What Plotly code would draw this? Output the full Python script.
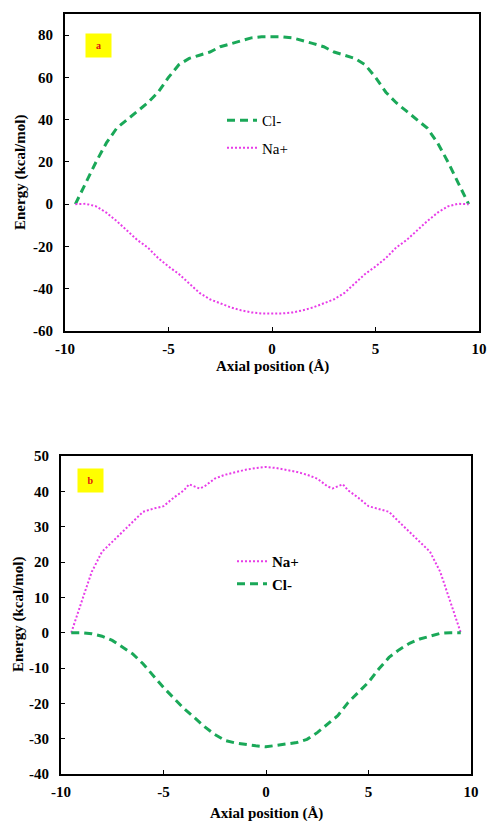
import plotly.graph_objects as go

# ---- Panel a data ----
xa = [-9.5, -9, -8.5, -8, -7.5, -7, -6.5, -6, -5.5, -5, -4.5, -4, -3.5, -3, -2.5, -2, -1.5, -1, -0.5, 0,
      0.5, 1, 1.5, 2, 2.5, 3, 3.5, 4, 4.5, 5, 5.5, 6, 6.5, 7, 7.5, 8, 8.5, 9, 9.5]
cl_a = [0, 10, 20, 29, 36, 40, 44, 48, 53, 60, 66, 69, 70.5, 72, 74.5, 76, 77.5, 78.7, 79.2, 79.2,
        79.2, 78.7, 77.5, 76, 74.5, 72, 70.5, 69, 66, 60, 53, 48, 44, 40, 36, 29, 20, 10, 0]
na_a = [0, 0.2, -1, -4, -8, -12.5, -17, -20.5, -25.5, -29.5, -33, -37.5, -42, -45, -47, -48.8, -50.2, -51.2, -51.7, -51.7,
        -51.7, -51.2, -50.2, -48.8, -47, -45, -42, -37.5, -33, -29.5, -25.5, -20.5, -17, -12.5, -8, -4, -1, 0.2, 0]

# ---- Panel b data ----
xb_na = [-9.5, -9.25, -9, -8.75, -8.5, -8, -7.5, -7, -6.5, -6, -5.5, -5, -4.5, -4, -3.75, -3.5, -3.25, -3, -2.5, -2,
         -1.5, -1, -0.5, 0, 0.5, 1, 1.5, 2, 2.5, 3, 3.25, 3.5, 3.75, 4, 4.5, 5, 5.5, 6, 6.5, 7, 7.5, 8,
         8.5, 8.75, 9, 9.25, 9.5]
na_b = [0, 4.5, 8.7, 13, 17.2, 22.9, 25.7, 28.5, 31.3, 34.2, 35.1, 35.8, 38.2, 40.3, 42, 41.4, 40.8, 41.4, 43.6, 44.7,
        45.5, 46.1, 46.6, 46.9, 46.6, 46.1, 45.5, 44.7, 43.6, 41.4, 40.8, 41.4, 42, 40.3, 38.2, 35.8, 35.1, 34.2, 31.3, 28.5, 25.7, 22.9,
        17.2, 13, 8.7, 4.5, 0]
xb_cl = [-9.5, -9, -8.5, -8, -7.5, -7, -6.5, -6, -5.5, -5, -4.5, -4, -3.5, -3, -2.5, -2, -1.5, -1, -0.5, 0,
         0.5, 1, 1.5, 2, 2.5, 3, 3.5, 4, 4.5, 5, 5.5, 6, 6.5, 7, 7.5, 8, 8.5, 9, 9.5]
cl_b = [0, 0, -0.3, -1, -2.2, -4, -6, -8.8, -12.3, -15.5, -18.5, -21.5, -24, -26.6, -28.8, -30.5, -31.2, -31.7, -32, -32.3,
        -32, -31.5, -31.1, -30.2, -28.3, -26, -23.5, -19.8, -16.8, -14, -10.3, -7, -4.8, -3, -1.8, -0.9, -0.2, 0, 0]

xticks = [-10, -5, 0, 5, 10]
xticklabels = ["-10", "-5", "0", "5", "10"]
yticks_a = [-60, -40, -20, 0, 20, 40, 60, 80]
yticklabels_a = ["-60", "-40", "-20", "0", "20", "40", "60", "80"]
yticks_b = [-40, -30, -20, -10, 0, 10, 20, 30, 40, 50]
yticklabels_b = ["-40", "-30", "-20", "-10", "0", "10", "20", "30", "40", "50"]
xtitle = "Axial position (Å)"
ytitle = "Energy (kcal/mol)"

GREEN = "#1aa858"
MAGENTA = "#e83ce8"
FONT = "Liberation Serif, Times New Roman, serif"
W, H = 487, 821

fig = go.Figure()
fig.add_trace(go.Scatter(x=xa, y=cl_a, name="Cl-", mode="lines", xaxis="x", yaxis="y", legendgroup="a1",
                         line=dict(color=GREEN, width=3, dash="8px,5px"), legend="legend"))
fig.add_trace(go.Scatter(x=xa, y=na_a, name="Na+", mode="lines", xaxis="x", yaxis="y", legendgroup="a2",
                         line=dict(color=MAGENTA, width=2, dash="2px,2px"), legend="legend"))
fig.add_trace(go.Scatter(x=xb_na, y=na_b, name="Na+", mode="lines", xaxis="x2", yaxis="y2", legendgroup="b1",
                         line=dict(color=MAGENTA, width=2, dash="2px,2px"), legend="legend2"))
fig.add_trace(go.Scatter(x=xb_cl, y=cl_b, name="Cl-", mode="lines", xaxis="x2", yaxis="y2", legendgroup="b2",
                         line=dict(color=GREEN, width=3, dash="8px,5px"), legend="legend2"))

axcommon = dict(showgrid=False, zeroline=False, showline=True, linecolor="black", linewidth=2,
                mirror=True, ticks="inside", ticklen=4, tickwidth=1, tickcolor="black", automargin=False,
                tickfont=dict(family=FONT, size=15, color="black", weight="bold"))


def px_x(p):
    return p / W


def px_y(p):
    return 1 - p / H


titlefont = dict(family=FONT, size=15, color="black")
labelfont = dict(family=FONT, size=10, color="#e01010")


def ann(text, x, y, font, angle=0, **kw):
    return dict(text=text, x=px_x(x), y=px_y(y), xref="paper", yref="paper", showarrow=False,
                xanchor="center", yanchor="middle", textangle=angle, font=font, **kw)


fig.update_layout(
    width=W, height=H, margin=dict(l=0, r=0, t=0, b=0, autoexpand=False),
    paper_bgcolor="white", plot_bgcolor="white",
    xaxis=dict(domain=[px_x(65), px_x(479)], range=[-10, 10], tickvals=xticks, ticktext=xticklabels,
               anchor="y", ticklabelstandoff=3, **axcommon),
    yaxis=dict(domain=[px_y(331), px_y(14)], range=[-60, 90], tickvals=yticks_a, ticktext=yticklabels_a,
               anchor="x", ticklabelstandoff=7, **axcommon),
    xaxis2=dict(domain=[px_x(61), px_x(471)], range=[-10, 10], tickvals=xticks, ticktext=xticklabels,
                anchor="y2", ticklabelstandoff=3, **axcommon),
    yaxis2=dict(domain=[px_y(774), px_y(456)], range=[-40, 50], tickvals=yticks_b, ticktext=yticklabels_b,
                anchor="x2", ticklabelstandoff=7, **axcommon),
    legend=dict(x=px_x(222), y=px_y(104), xanchor="left", yanchor="top", bgcolor="rgba(0,0,0,0)",
                font=dict(family=FONT, size=15, color="black"), tracegroupgap=5),
    legend2=dict(x=px_x(232), y=px_y(545), xanchor="left", yanchor="top", bgcolor="rgba(0,0,0,0)",
                 font=dict(family=FONT, size=15, color="black", weight="bold"), tracegroupgap=0),
    showlegend=True,
    annotations=[
        ann("<b>a</b>", 98, 45.5, labelfont, bgcolor="#ffff00", width=25, height=23, borderpad=0),
        ann("<b>b</b>", 90, 480, labelfont, bgcolor="#ffff00", width=25, height=23, borderpad=0),
        ann("<b>" + xtitle + "</b>", 272, 366, titlefont),
        ann("<b>" + xtitle + "</b>", 266, 813, titlefont),
        ann("<b>" + ytitle + "</b>", 20, 173, titlefont, angle=-90),
        ann("<b>" + ytitle + "</b>", 18, 615, titlefont, angle=-90),
    ],
)

fig.write_html("out.html")
